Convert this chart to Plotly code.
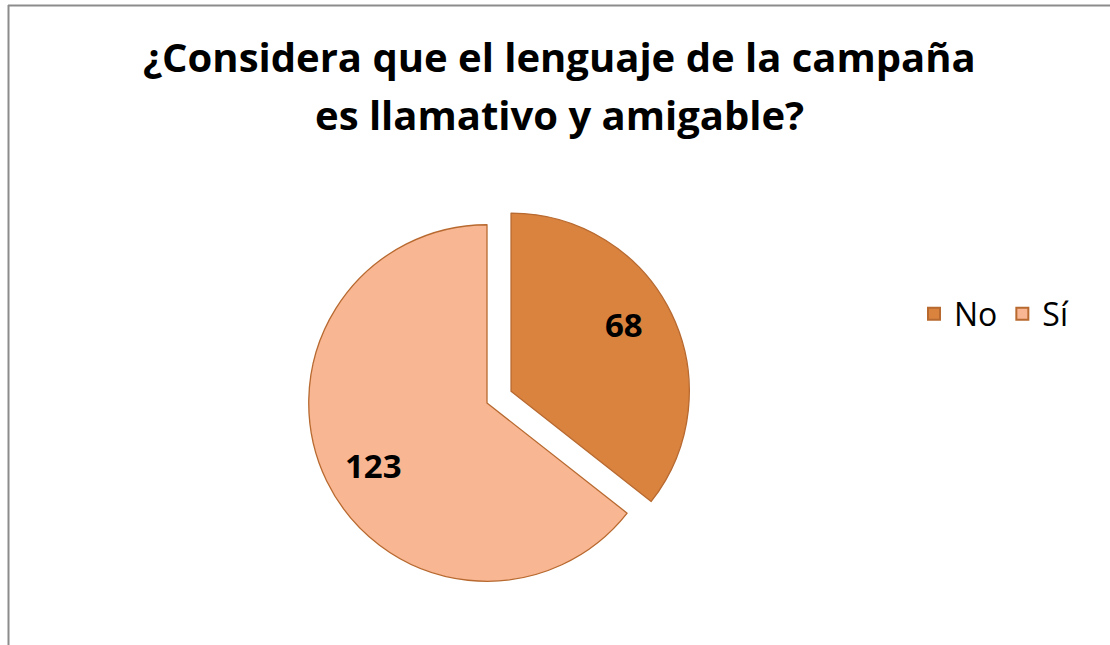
import math
import plotly.graph_objects as go

labels = ["No", "Sí"]
values = [68, 123]
colors = ["#D9833F", "#F8B692"]
pulls = [0.15, 0.0]
title_lines = ["¿Considera que el lenguaje de la campaña", "es llamativo y amigable?"]

W, H = 1110, 645
# pie geometry in pixels
cx, cy, half = 487, 403, 205
FONT = "Open Sans"

fig = go.Figure(go.Pie(
    labels=labels,
    values=values,
    sort=False,
    direction="clockwise",
    rotation=0,
    pull=pulls,
    marker=dict(colors=colors, line=dict(color="#B8692F", width=1.3)),
    textinfo="none",
    domain=dict(x=[(cx - half) / W, (cx + half) / W],
                y=[1 - (cy + half) / H, 1 - (cy - half) / H]),
    hoverinfo="label+value",
))

# value labels placed near each slice's bisector (derived from the values)
r = half / (1 + max(pulls))
total = sum(values)
annots = []
start = 0.0
for lab, v, p in zip(labels, values, pulls):
    frac = v / total
    mid_c = (start + frac / 2) * 2 * math.pi
    mid_l = mid_c - math.radians(3.8)
    start += frac
    off = p * r
    rad = 0.73 * r
    px = cx + off * math.sin(mid_c) + rad * math.sin(mid_l)
    py = cy - off * math.cos(mid_c) - rad * math.cos(mid_l) - 2
    annots.append(dict(text=str(v), x=px / W, y=1 - py / H, xref="paper", yref="paper",
                       showarrow=False, xanchor="center", yanchor="middle",
                       font=dict(family=FONT, size=33, color="black", weight="bold")))

for line, ty in zip(title_lines, [56, 115]):
    annots.append(dict(text=line, x=559 / W, y=1 - ty / H,
                       xref="paper", yref="paper", showarrow=False,
                       font=dict(family=FONT, size=40, color="black", weight="bold"),
                       xanchor="center", yanchor="middle", align="center"))

fig.update_layout(
    width=W, height=H,
    margin=dict(l=0, r=0, t=0, b=0),
    paper_bgcolor="white",
    plot_bgcolor="white",
    showlegend=True,
    legend=dict(orientation="h", x=914 / W, y=1 - 314 / H, xanchor="left", yanchor="middle",
                font=dict(family=FONT, size=32, color="black"),
                itemsizing="constant", traceorder="normal"),
    annotations=annots,
    shapes=[
        dict(type="line", xref="paper", yref="paper", x0=8 / W, x1=1.01, y0=1 - 5.5 / H, y1=1 - 5.5 / H,
             line=dict(color="#8C8C8C", width=2)),
        dict(type="line", xref="paper", yref="paper", x0=8.5 / W, x1=8.5 / W, y0=-0.01, y1=1 - 5 / H,
             line=dict(color="#8C8C8C", width=2)),
    ],
)

fig.write_html("out.html",
               config={"displayModeBar": False},
               post_script="document.body.style.margin='0';document.body.style.padding='0';document.body.style.overflow='hidden';")
